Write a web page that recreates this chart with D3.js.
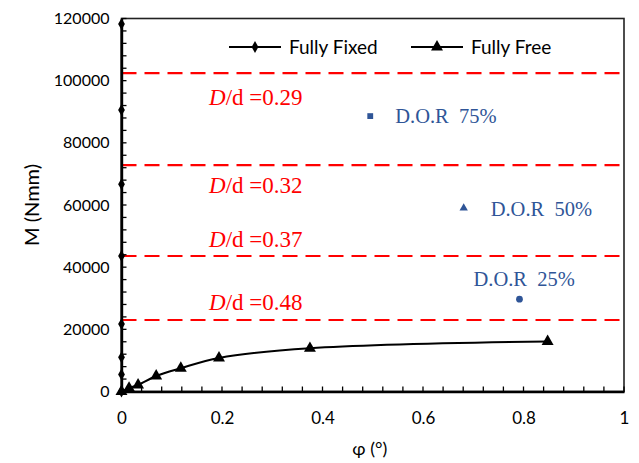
<!DOCTYPE html>
<html>
<head>
<meta charset="utf-8">
<script src="https://cdn.jsdelivr.net/npm/d3@7"></script>
<style>
  body { margin: 0; background: #fff; }
  svg { display: block; }
</style>
</head>
<body>
<svg id="chart" width="639" height="463"></svg>
<script>
// ---- data ----
const fixedPhi = [0, 0, 0, 0, 0, 0, 0, 0];
const fixedM = [0, 5500, 11000, 21700, 43600, 66700, 90600, 118200];

const freePhi = [0, 0.015, 0.033, 0.069, 0.118, 0.194, 0.375, 0.848];
const freeM = [0, 1100, 2100, 5000, 7500, 10800, 13900, 16100];

const ratioLabels = ["0.29", "0.32", "0.37", "0.48"];
const ratioM = [102400, 72800, 43600, 23000];

const dorLabels = ["D.O.R  75%", "D.O.R  50%", "D.O.R  25%"];
const dorPhi = [0.495, 0.681, 0.792];
const dorM = [88600, 59000, 29700];
const dorShapes = ["square", "triangle", "circle"];

const xTicks = [0, 0.2, 0.4, 0.6, 0.8, 1];
const yTicks = [0, 20000, 40000, 60000, 80000, 100000, 120000];

// ---- layout ----
const svg = d3.select("#chart");
const L = 121.5, R = 624, T = 18.5, B = 391.5;
const x = d3.scaleLinear().domain([0, 1]).range([L, R]);
const y = d3.scaleLinear().domain([0, 120000]).range([B, T]);
const tickFont = "Lato, 'Open Sans', sans-serif";
const blue = "#2F5597";

// red dashed reference lines
const ratioOffsets = [25, 21, -16, -17];
svg.append("g").selectAll("line").data(ratioM).join("line")
  .attr("x1", L).attr("x2", R)
  .attr("y1", d => y(d)).attr("y2", d => y(d))
  .attr("stroke", "#FF0000").attr("stroke-width", 2.2)
  .attr("stroke-dasharray", "15,8");

const rl = svg.append("g").selectAll("text").data(ratioLabels).join("text")
  .attr("x", 209)
  .attr("y", (d, i) => y(ratioM[i]) + ratioOffsets[i] + 7)
  .attr("fill", "#FF0000")
  .attr("font-family", "'Liberation Serif', 'DejaVu Serif', serif")
  .attr("font-size", 23);
rl.append("tspan").attr("font-style", "italic").text("D");
rl.append("tspan").text(d => "/d =" + d);

// box
svg.append("rect").attr("x", L).attr("y", T).attr("width", R - L).attr("height", B - T)
  .attr("fill", "none").attr("stroke", "#222").attr("stroke-width", 1.6);

// axes
const xMinor = d3.range(0, 1.0001, 0.04);
const yMinor = d3.range(0, 120001, 4000);
svg.append("g").selectAll("line").data(xMinor).join("line")
  .attr("x1", d => x(d)).attr("x2", d => x(d))
  .attr("y1", B).attr("y2", B - 5)
  .attr("stroke", "#000").attr("stroke-width", 1.3);
svg.append("g").selectAll("line").data(yMinor).join("line")
  .attr("x1", L).attr("x2", L + 5)
  .attr("y1", d => y(d)).attr("y2", d => y(d))
  .attr("stroke", "#000").attr("stroke-width", 1.3);

const xAxis = svg.append("g").attr("transform", `translate(0,${B})`)
  .call(d3.axisBottom(x).tickValues(xTicks).tickSize(0).tickPadding(20)
    .tickFormat(d => d3.format("")(d)));
const yAxis = svg.append("g").attr("transform", `translate(${L},0)`)
  .call(d3.axisLeft(y).tickValues(yTicks).tickSize(0).tickPadding(12)
    .tickFormat(d3.format("d")));
[xAxis, yAxis].forEach(a => {
  a.select(".domain").attr("stroke", "#000").attr("stroke-width", 2.4);
  a.selectAll("text").attr("font-family", tickFont).attr("font-size", 16).attr("fill", "#000");
});
xAxis.selectAll("text").attr("font-size", 17);

// axis titles
svg.append("text").attr("x", (L + R) / 2 - 3).attr("y", 455)
  .attr("text-anchor", "middle").attr("font-family", tickFont).attr("font-size", 18)
  .text("φ (°)");
svg.append("text").attr("transform", `translate(39,${(T + B) / 2}) rotate(-90)`)
  .attr("text-anchor", "middle").attr("font-family", tickFont).attr("font-size", 20)
  .text("M (Nmm)");

// series
const fixed = fixedPhi.map((p, i) => [p, fixedM[i]]);
const free = freePhi.map((p, i) => [p, freeM[i]]);
const line = d3.line().x(d => x(d[0])).y(d => y(d[1]));

svg.append("path").attr("d", line(fixed)).attr("fill", "none")
  .attr("stroke", "#000").attr("stroke-width", 2);
svg.append("path").attr("d", line.curve(d3.curveCatmullRom.alpha(0.5))(free)).attr("fill", "none")
  .attr("stroke", "#000").attr("stroke-width", 2);

const diamond = d3.symbol().type(d3.symbolDiamond).size(40);
const tri = d3.symbol().type(d3.symbolTriangle).size(62);
svg.append("g").selectAll("path").data(fixed).join("path")
  .attr("transform", d => `translate(${x(d[0])},${y(d[1])})`)
  .attr("d", diamond).attr("fill", "#000");
svg.append("g").selectAll("path").data(free).join("path")
  .attr("transform", d => `translate(${x(d[0])},${y(d[1])})`)
  .attr("d", tri).attr("fill", "#000");

// D.O.R points
const shapeMap = {
  square: d3.symbol().type(d3.symbolSquare).size(34),
  triangle: d3.symbol().type(d3.symbolTriangle).size(30),
  circle: d3.symbol().type(d3.symbolCircle).size(36)
};
svg.append("g").selectAll("path").data(dorPhi).join("path")
  .attr("transform", (d, i) => `translate(${x(d)},${y(dorM[i])})`)
  .attr("d", (d, i) => shapeMap[dorShapes[i]]()).attr("fill", blue);

const dorDx = [25, 27, -46];
const dorDy = [7, 8, -13];
svg.append("g").selectAll("text").data(dorLabels).join("text")
  .attr("x", (d, i) => x(dorPhi[i]) + dorDx[i])
  .attr("y", (d, i) => y(dorM[i]) + dorDy[i])
  .attr("fill", blue)
  .attr("font-family", "'Liberation Serif', 'DejaVu Serif', serif")
  .attr("font-size", 20.5)
  .attr("xml:space", "preserve")
  .style("white-space", "pre")
  .text(d => d);

// legend
const legend = svg.append("g");
const legItems = [
  { name: "Fully Fixed", x0: 229, sym: diamond },
  { name: "Fully Free", x0: 411, sym: tri }
];
legItems.forEach(it => {
  legend.append("line").attr("x1", it.x0).attr("x2", it.x0 + 52)
    .attr("y1", 47).attr("y2", 47).attr("stroke", "#000").attr("stroke-width", 2);
  legend.append("path").attr("transform", `translate(${it.x0 + 26},47)`).attr("d", it.sym).attr("fill", "#000");
  legend.append("text").attr("x", it.x0 + 60).attr("y", 53.5)
    .attr("font-family", tickFont).attr("font-size", 19).text(it.name);
});
</script>
</body>
</html>
